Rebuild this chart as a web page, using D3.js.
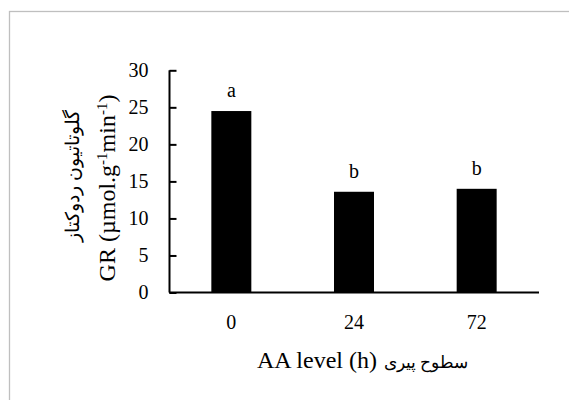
<!DOCTYPE html>
<html><head><meta charset="utf-8">
<script src="https://cdn.jsdelivr.net/npm/d3@7"></script>
<style>body{margin:0;background:#fff}svg{display:block}</style>
</head><body>
<script>
const categories = ["0", "24", "72"];
const values = [24.5, 13.6, 14.0];
const letters = ["a", "b", "b"];
const yTicks = [0, 5, 10, 15, 20, 25, 30];
const xTitleEn = "AA level (h)";
const xTitleFa = "سطوح پیری";
const yTitleFa = "گلوتاتیون ردوکتاز";

const W = 569, H = 400;
const svg = d3.select("body").append("svg").attr("width", W).attr("height", H);
const font = "'Liberation Serif','Times New Roman',serif";

svg.append("rect").attr("x", 9.5).attr("y", 11.5).attr("width", W + 20).attr("height", H + 20)
  .attr("fill", "#fff").attr("stroke", "#bfbfbf").attr("stroke-width", 1.3);

const y = d3.scaleLinear().domain([0, 30]).range([292.5, 70.3]);
const x = d3.scaleBand().domain(categories).range([170, 538]).paddingInner(0.674).paddingOuter(0.337);

// bars
svg.selectAll("rect.bar").data(values).join("rect").attr("class", "bar")
  .attr("x", (d, i) => x(categories[i])).attr("width", x.bandwidth())
  .attr("y", d => y(d)).attr("height", d => y(0) - y(d)).attr("fill", "#000");

// letters
svg.selectAll("text.let").data(values).join("text").attr("class", "let")
  .attr("x", (d, i) => x(categories[i]) + x.bandwidth() / 2)
  .attr("y", d => y(d) - 14).attr("text-anchor", "middle")
  .attr("font-family", font).attr("font-size", 20).text((d, i) => letters[i]);

// y axis
const yAxis = d3.axisLeft(y).tickValues(yTicks).tickSize(-7).tickPadding(21).tickFormat(d3.format("d"));
const gy = svg.append("g").attr("transform", "translate(169.5,0)").call(yAxis);
gy.select(".domain").attr("stroke", "#000").attr("stroke-width", 2).attr("d", `M0,${y(30)}V${y(0)}`);
gy.selectAll(".tick line").attr("stroke", "#000").attr("stroke-width", 2);
gy.selectAll(".tick text").attr("font-family", font).attr("font-size", 20).attr("fill", "#000");

// x axis
const xAxis = d3.axisBottom(x).tickSize(0).tickPadding(22);
const gx = svg.append("g").attr("transform", `translate(0,${y(0)})`).call(xAxis);
gx.select(".domain").attr("stroke", "#000").attr("stroke-width", 2).attr("d", "M169,0H539");
gx.selectAll(".tick text").attr("font-family", font).attr("font-size", 20).attr("fill", "#000");

// x title
svg.append("text").attr("x", 257).attr("y", 368).attr("text-anchor", "start")
  .attr("font-family", font).attr("font-size", 24).text(xTitleEn);
svg.append("text").attr("x", 426).attr("y", 368).attr("text-anchor", "middle")
  .attr("font-family", font).attr("font-size", 17).text(xTitleFa);

// y titles
svg.append("text").attr("transform", "translate(79,176) rotate(-90)").attr("text-anchor", "middle")
  .attr("font-family", font).attr("font-size", 19).text(yTitleFa);
const t = svg.append("text").attr("transform", "translate(115,188) rotate(-90)").attr("text-anchor", "middle")
  .attr("font-family", font).attr("font-size", 24);
t.append("tspan").text("GR (µmol.g");
t.append("tspan").attr("baseline-shift", "super").attr("font-size", 15).text("-1");
t.append("tspan").text("min");
t.append("tspan").attr("baseline-shift", "super").attr("font-size", 15).text("-1");
t.append("tspan").text(")");
</script>
</body></html>
